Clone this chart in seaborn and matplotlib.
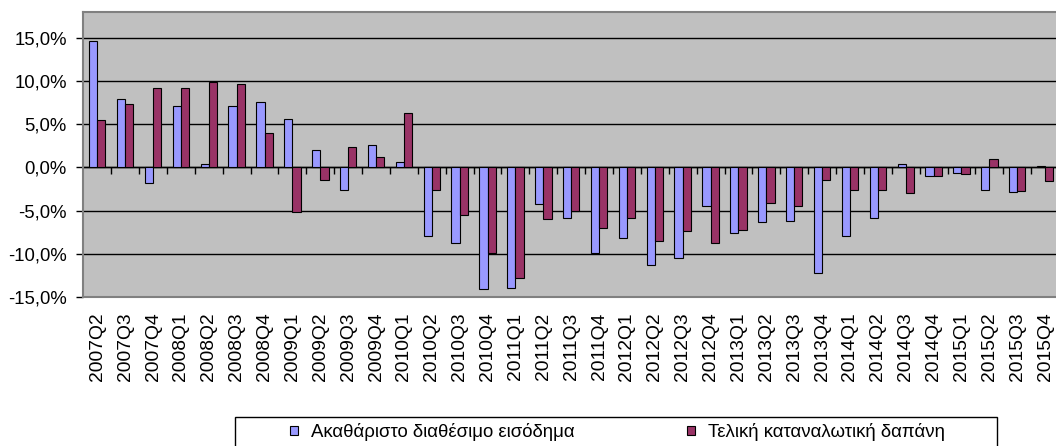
import numpy as np
import pandas as pd
import matplotlib
matplotlib.use('Agg')
import matplotlib.pyplot as plt
import seaborn as sns
from matplotlib.ticker import FuncFormatter
from matplotlib.patches import Rectangle

# quarterly % change
quarters = ['2007Q2', '2007Q3', '2007Q4',
            '2008Q1', '2008Q2', '2008Q3', '2008Q4',
            '2009Q1', '2009Q2', '2009Q3', '2009Q4',
            '2010Q1', '2010Q2', '2010Q3', '2010Q4',
            '2011Q1', '2011Q2', '2011Q3', '2011Q4',
            '2012Q1', '2012Q2', '2012Q3', '2012Q4',
            '2013Q1', '2013Q2', '2013Q3', '2013Q4',
            '2014Q1', '2014Q2', '2014Q3', '2014Q4',
            '2015Q1', '2015Q2', '2015Q3', '2015Q4']
income = [14.6, 7.9, -1.8, 7.1, 0.35, 7.1, 7.6, 5.6, 2.05, -2.55,
          2.65, 0.6, -7.9, -8.7, -14.1, -13.9, -4.25, -5.9, -9.95,
          -8.2, -11.25, -10.45, -4.45, -7.6, -6.35, -6.2, -12.2,
          -7.9, -5.9, 0.45, -0.95, -0.6, -2.65, -2.85, 0.2]
consumption = [5.55, 7.3, 9.2, 9.2, 9.95, 9.65, 3.95, -5.1, -1.45, 2.4,
               1.25, 6.3, -2.55, -5.55, -9.85, -12.8, -6.0, -5.05, -7.0,
               -5.9, -8.55, -7.4, -8.75, -7.25, -4.15, -4.45, -1.45,
               -2.55, -2.55, -3.0, -0.95, -0.75, 0.95, -2.7, -1.6]
series_names = ['Ακαθάριστο διαθέσιμο εισόδημα', 'Τελική καταναλωτική δαπάνη']
colors = ['#9999FF', '#993366']

df = pd.DataFrame({
    'quarter': quarters * 2,
    'value': income + consumption,
    'series': [series_names[0]] * len(quarters) + [series_names[1]] * len(quarters),
})

plt.rcParams['font.family'] = ['Liberation Sans', 'DejaVu Sans']

fig = plt.figure(figsize=(10.56, 4.46), dpi=100)
ax = fig.add_axes([0.0789, 0.334, 0.924, 0.639])
ax.set_facecolor('#C0C0C0')

sns.barplot(data=df, x='quarter', y='value', hue='series', palette=colors,
            width=0.59, saturation=1, edgecolor='black', linewidth=0.8, ax=ax)

ax.set_xlim(-0.5, len(quarters) - 0.5)
ax.set_ylim(-15, 18)
ax.set_yticks(np.arange(-15, 16, 5))
ax.yaxis.set_major_formatter(FuncFormatter(lambda v, p: ('%.1f%%' % v).replace('.', ',')))
ax.yaxis.grid(True, color='black', linewidth=1)
ax.set_axisbelow(True)
ax.set_xlabel('')
ax.set_ylabel('')

ax.tick_params(axis='x', length=0, pad=11, labelsize=13.9, labelrotation=90)
ax.tick_params(axis='y', length=4.8, width=1, color='black', pad=7, labelsize=13.3)
for s in ['top', 'bottom', 'left', 'right']:
    ax.spines[s].set_color('#808080')
    ax.spines[s].set_linewidth(1.5)

# zero line with category boundary ticks, like the excel category axis
sec = ax.secondary_xaxis(15 / 33)
sec.set_xticks(np.arange(0.5, len(quarters), 1))
sec.tick_params(axis='x', length=5, width=1, color='black', labelbottom=False)
sec.spines['bottom'].set_color('black')
sec.spines['bottom'].set_linewidth(1)

handles, labels = ax.get_legend_handles_labels()
ax.get_legend().remove()
leg = fig.legend(handles, labels, loc='center left',
                 bbox_to_anchor=(290 / 1056, 1 - 432 / 446, 655 / 1056, 0),
                 mode='expand', ncol=2, fontsize=13.4, frameon=False,
                 borderaxespad=0, borderpad=0,
                 handlelength=0.42, handleheight=0.42, handletextpad=0.7)
# legend frame is wider than its content, as in the excel chart
fig.add_artist(Rectangle((235 / 1056, -0.05), 762 / 1056, 0.05 + 1 - 417 / 446,
                         transform=fig.transFigure, fill=False, edgecolor='black', linewidth=1))

fig.savefig('out.png', dpi=100)
